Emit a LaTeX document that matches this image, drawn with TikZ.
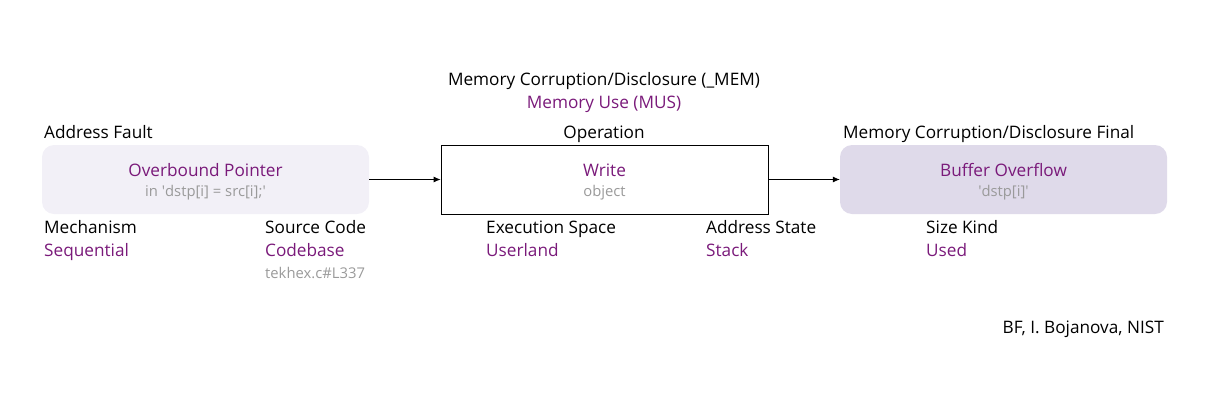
\documentclass[tikz,border=0pt]{standalone}
\usepackage{fontspec}
\setmainfont{Open Sans}
\usetikzlibrary{arrows.meta}
\definecolor{vpurple}{HTML}{7A1A7A}
\definecolor{vgrey}{HTML}{9A9A9A}
\definecolor{boxA}{HTML}{F2F0F7}
\definecolor{boxC}{HTML}{DFDAEA}
\newcommand{\sq}{\textquotesingle}
\tikzset{
  x=1pt,y=-1pt,
  lbl/.style={inner sep=0pt,anchor=base,font=\fontsize{17.2}{20}\selectfont,text=black},
  val/.style={lbl,text=vpurple},
  note/.style={inner sep=0pt,anchor=base,font=\fontsize{14.8}{17}\selectfont,text=vgrey},
  rbox/.style={rounded corners=12pt,draw=none,minimum width=327pt,minimum height=69pt},
  sbox/.style={draw=black,line width=0.8pt,fill=white,minimum width=327pt,minimum height=69pt},
  conn/.style={-{Latex[length=7pt,width=6pt]},line width=0.8pt}
}
\begin{document}
\begin{tikzpicture}
\useasboundingbox (0,0) rectangle (1207,400);
\node[rbox,fill=boxA] (A) at (205.5,179.5) {};
\node[sbox] (B) at (604.5,179.5) {};
\node[rbox,fill=boxC] (C) at (1003.5,179.5) {};
\draw[conn] (A.east) -- (B.west);
\draw[conn] (B.east) -- (C.west);
% top titles
\node[lbl] (mem) at (604,85) {Memory Corruption/Disclosure (\_MEM)};
\node[val] (mus) at (604,108.3) {Memory Use (MUS)};
\node[lbl,anchor=base west] (af) at (44,138) {Address Fault};
\node[lbl] (op) at (604,138) {Operation};
\node[lbl,anchor=base west] (mcf) at (843,138) {Memory Corruption/Disclosure Final};
% box texts
\node[val] (ob) at (205.5,176) {Overbound Pointer};
\node[note] (obn) at (205.5,196) {in \sq dstp[i] = src[i];\sq};
\node[val] (wr) at (604.5,176) {Write};
\node[note] (wrn) at (604.5,196) {object};
\node[val] (bo) at (1003.5,176) {Buffer Overflow};
\node[note] (bon) at (1003.5,196) {\sq dstp[i]\sq};
% attributes
\node[lbl,anchor=base west] (mech) at (44,233.4) {Mechanism};
\node[val,anchor=base west] (seq) at (44,256.3) {Sequential};
\node[lbl,anchor=base west] (sc) at (265,233.4) {Source Code};
\node[val,anchor=base west] (cb) at (265,256.3) {Codebase};
\node[note,anchor=base west] (tk) at (265,278.5) {tekhex.c\#L337};
\node[lbl,anchor=base west] (es) at (486,233.4) {Execution Space};
\node[val,anchor=base west] (ul) at (486,256.3) {Userland};
\node[lbl,anchor=base west] (as) at (706,233.4) {Address State};
\node[val,anchor=base west] (st) at (706,256.3) {Stack};
\node[lbl,anchor=base west] (sk) at (926,233.4) {Size Kind};
\node[val,anchor=base west] (us) at (926,256.3) {Used};
\node[lbl,anchor=base east] (cr) at (1164,333.3) {BF, I. Bojanova, NIST};
\end{tikzpicture}
\end{document}
